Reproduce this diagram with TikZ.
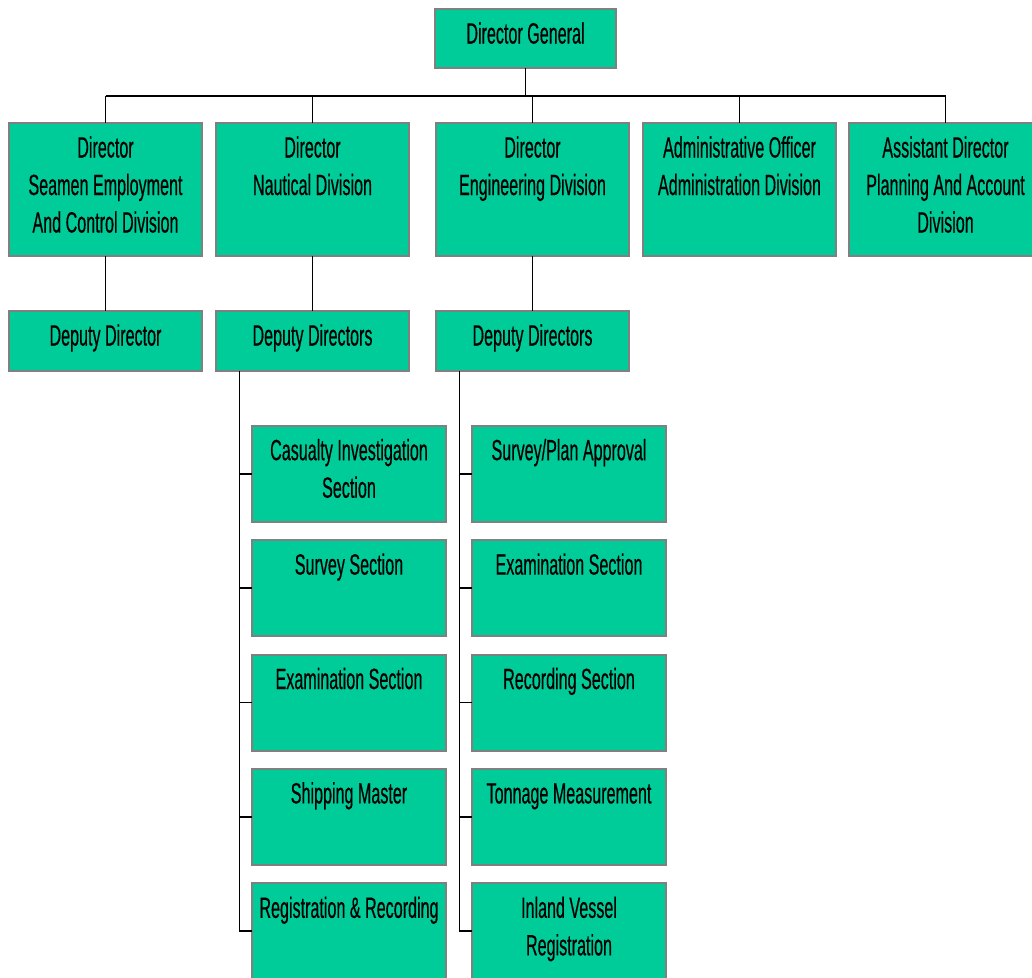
\documentclass[tikz,border=0pt]{standalone}
\usepackage{fontspec}
\setmainfont[FakeStretch=0.55,FakeBold=0.4]{Liberation Sans}
\definecolor{orgfill}{RGB}{0,204,153}
\definecolor{orgline}{RGB}{128,128,128}
\newcommand{\orgtext}[3]{\parbox[c][#2][t]{#1}{\centering\rule{0pt}{34.5pt}#3\par}}
\tikzset{
  org/.style={fill=orgfill, draw=orgline, line width=2pt, inner sep=0pt, outer sep=0pt,
              font=\fontsize{29.3}{37.5}\selectfont},
  link/.style={draw=black, line width=1.1pt},
  bar/.style={draw=black, line width=2.3pt},
  trunk/.style={draw=black, line width=1.8pt},
}
\begin{document}
\begin{tikzpicture}[x=1pt, y=-1pt]
\useasboundingbox (0,0) rectangle (1032,977);
\clip (0,0) rectangle (1032,977);

% top
\node[org] (dg) at (525.5,38.5) {\orgtext{181pt}{59pt}{Director General}};

% level 2
\node[org] (sec) at (105.5,189.25) {\orgtext{193pt}{132.5pt}{Director\\Seamen Employment\\And Control Division}};
\node[org] (nau) at (312.5,189.25) {\orgtext{193pt}{132.5pt}{Director\\Nautical Division}};
\node[org] (eng) at (532.5,189.25) {\orgtext{193pt}{132.5pt}{Director\\Engineering Division}};
\node[org] (adm) at (739.5,189.25) {\orgtext{193pt}{132.5pt}{Administrative Officer\\Administration Division}};
\node[org] (pla) at (945.5,189.25) {\orgtext{193pt}{132.5pt}{Assistant Director\\Planning And Account\\Division}};

% level 3
\node[org] (secd) at (105.5,341) {\orgtext{193pt}{60pt}{Deputy Director}};
\node[org] (naud) at (312.5,341) {\orgtext{193pt}{60pt}{Deputy Directors}};
\node[org] (engd) at (532.5,341) {\orgtext{193pt}{60pt}{Deputy Directors}};

% level 4, nautical
\node[org] (n1) at (349,473.7) {\orgtext{194pt}{96pt}{Casualty Investigation\\Section}};
\node[org] (n2) at (349,588.1) {\orgtext{194pt}{96pt}{Survey Section}};
\node[org] (n3) at (349,702.5) {\orgtext{194pt}{96pt}{Examination Section}};
\node[org] (n4) at (349,816.9) {\orgtext{194pt}{96pt}{Shipping Master}};
\node[org] (n5) at (349,931.3) {\orgtext{194pt}{96pt}{Registration \& Recording}};

% level 4, engineering
\node[org] (e1) at (569,473.7) {\orgtext{194pt}{96pt}{Survey/Plan Approval}};
\node[org] (e2) at (569,588.1) {\orgtext{194pt}{96pt}{Examination Section}};
\node[org] (e3) at (569,702.5) {\orgtext{194pt}{96pt}{Recording Section}};
\node[org] (e4) at (569,816.9) {\orgtext{194pt}{96pt}{Tonnage Measurement}};
\node[org] (e5) at (569,931.3) {\orgtext{194pt}{96pt}{Inland Vessel\\Registration}};

% main bar
\coordinate (barL) at (105.5,96);
\coordinate (barR) at (945.5,96);
\draw[bar] (barL) -- (barR);
\draw[link] (dg.south) -- (dg.south |- barL);
\foreach \n in {sec,nau,eng,adm,pla}
  \draw[link] (\n.north) -- (\n.north |- barL);

% level 2 to level 3
\draw[link] (sec.south) -- (secd.north);
\draw[link] (nau.south) -- (naud.north);
\draw[link] (eng.south) -- (engd.north);

% trunks
\coordinate (t2) at (239.5,371);
\coordinate (t3) at (459.5,371);
\draw[trunk] (t2) -- (t2 |- n5.west) -- (n5.west);
\draw[trunk] (t3) -- (t3 |- e5.west) -- (e5.west);
\foreach \n in {n1,n2,n3,n4}
  \draw[trunk] (t2 |- \n.west) -- (\n.west);
\foreach \n in {e1,e2,e3,e4}
  \draw[trunk] (t3 |- \n.west) -- (\n.west);
\end{tikzpicture}
\end{document}
